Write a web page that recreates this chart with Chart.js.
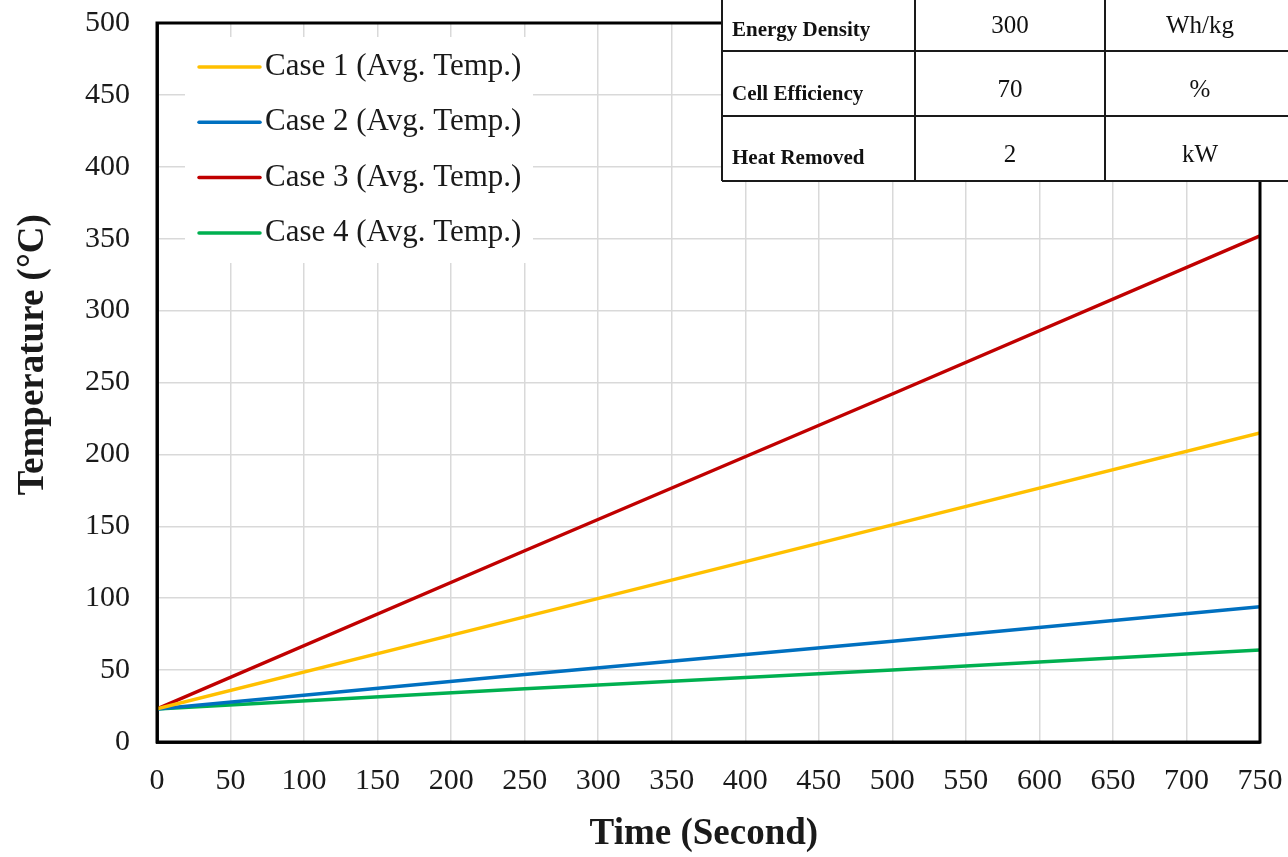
<!DOCTYPE html>
<html>
<head>
<meta charset="utf-8">
<script src="https://cdn.jsdelivr.net/npm/chart.js@4.4.1/dist/chart.umd.min.js"></script>
<style>
  html, body { margin: 0; padding: 0; background: #fff; }
  #wrap { width: 1288px; height: 857px; position: relative; }
</style>
</head>
<body>
<div id="wrap"><canvas id="chart"></canvas></div>
<script>
// time in seconds, avg. temperature in °C
const timeSec = [0, 250, 500, 750];
const case1 = [23, 87, 151, 215];
const case2 = [23, 47, 70, 94];
const case3 = [23, 133, 242, 352];
const case4 = [23, 37, 50, 64];

const seriesLabels = ['Case 1 (Avg. Temp.)', 'Case 2 (Avg. Temp.)', 'Case 3 (Avg. Temp.)', 'Case 4 (Avg. Temp.)'];
const seriesColors = ['#FFC000', '#0070C0', '#C00000', '#00B050'];

// parameter table in the top right corner
const paramNames = ['Energy Density', 'Cell Efficiency', 'Heat Removed'];
const paramValues = ['300', '70', '2'];
const paramUnits = ['Wh/kg', '%', 'kW'];

const SERIF = '"Liberation Serif", "Times New Roman", serif';
const NBSP = '\u00a0';

const toPoints = (ys) => ys.map((y, i) => ({ x: timeSec[i], y: y }));

const framePlugin = {
    id: 'frame',
    afterDatasetsDraw(chart) {
        const { ctx, chartArea: a } = chart;
        ctx.save();
        ctx.strokeStyle = '#000';
        ctx.lineWidth = 3;
        ctx.strokeRect(a.left, a.top, a.right - a.left, a.bottom - a.top);
        ctx.restore();
    },
};

const legendBoxPlugin = {
    id: 'legendBox',
    afterDraw(chart) {
        const { ctx } = chart;
        ctx.save();
        ctx.fillStyle = '#fff';
        ctx.fillRect(185, 37, 348, 226);
        ctx.font = '31px ' + SERIF;
        ctx.textBaseline = 'middle';
        ctx.textAlign = 'left';
        chart.data.datasets.forEach((ds, i) => {
            const y = 67 + i * 55.3;
            ctx.strokeStyle = ds.borderColor;
            ctx.lineWidth = 3.5;
            ctx.lineCap = 'round';
            ctx.beginPath();
            ctx.moveTo(199, y);
            ctx.lineTo(260, y);
            ctx.stroke();
            ctx.fillStyle = '#1a1a1a';
            ctx.fillText(ds.label, 265, y);
        });
        ctx.restore();
    },
};

const tablePlugin = {
    id: 'paramTable',
    afterDraw(chart) {
        const { ctx } = chart;
        const cols = [722, 915, 1105, 1292];
        const rows = [-5, 51, 116, 181];
        ctx.save();
        ctx.fillStyle = '#fff';
        ctx.fillRect(cols[0], 0, cols[3] - cols[0], rows[3]);
        ctx.strokeStyle = '#1a1a1a';
        ctx.lineWidth = 2;
        ctx.beginPath();
        cols.forEach((x) => { ctx.moveTo(x, rows[0]); ctx.lineTo(x, rows[3]); });
        rows.forEach((y) => { ctx.moveTo(cols[0], y); ctx.lineTo(cols[3], y); });
        ctx.stroke();
        ctx.fillStyle = '#111';
        paramNames.forEach((name, i) => {
            ctx.font = 'bold 21px ' + SERIF;
            ctx.textAlign = 'left';
            ctx.textBaseline = 'alphabetic';
            ctx.fillText(name, 732, 36 + i * 64);
            ctx.font = '25px ' + SERIF;
            ctx.textAlign = 'center';
            ctx.textBaseline = 'middle';
            ctx.fillText(paramValues[i], 1010, 26 + i * 64.5);
            ctx.fillText(paramUnits[i], 1200, 26 + i * 64.5);
        });
        ctx.restore();
    },
};

new Chart(document.getElementById('chart'), {
    type: 'line',
    data: {
        datasets: [case1, case2, case3, case4].map((ys, i) => ({
            label: seriesLabels[i],
            data: toPoints(ys),
            borderColor: seriesColors[i],
            backgroundColor: seriesColors[i],
            borderWidth: 3.5,
            pointRadius: 0,
            tension: 0,
            fill: false,
        })),
    },
    options: {
        responsive: true,
        maintainAspectRatio: false,
        animation: false,
        devicePixelRatio: 1,
        layout: { padding: { left: 0, top: 23, right: 28, bottom: 0 } },
        plugins: {
            legend: { display: false },
            tooltip: { enabled: false },
        },
        scales: {
            x: {
                type: 'linear',
                min: 0,
                max: 750,
                ticks: {
                    stepSize: 50,
                    padding: 21,
                    color: '#1a1a1a',
                    font: { family: SERIF, size: 30 },
                    maxRotation: 0,
                },
                grid: { color: '#d9d9d9', lineWidth: 1.5, drawTicks: false },
                border: { color: '#1a1a1a', width: 3 },
                title: {
                    display: true,
                    // trailing space nudges the centred title a little left
                    text: 'Time (Second)' + NBSP,
                    color: '#1a1a1a',
                    font: { family: SERIF, size: 37, weight: 'bold' },
                    padding: { top: 0, bottom: 0 },
                },
                afterFit: (scale) => {
                    scale.height = 115;
                    scale.paddingLeft = 0;
                    scale.paddingRight = 0;
                },
            },
            y: {
                min: 0,
                max: 500,
                ticks: {
                    stepSize: 50,
                    padding: 27,
                    color: '#1a1a1a',
                    font: { family: SERIF, size: 30 },
                },
                grid: { color: '#d9d9d9', lineWidth: 1.5, drawTicks: false },
                border: { color: '#1a1a1a', width: 3 },
                title: {
                    display: true,
                    // leading spaces lift the title, it sits above centre in the original
                    text: NBSP.repeat(6) + 'Temperature (°C)',
                    color: '#1a1a1a',
                    font: { family: SERIF, size: 37, weight: 'bold' },
                    padding: { top: 11, bottom: 0 },
                },
                afterFit: (scale) => {
                    scale.width = 157;
                    scale.paddingTop = 0;
                    scale.paddingBottom = 0;
                },
            },
        },
    },
    plugins: [framePlugin, legendBoxPlugin, tablePlugin],
});
</script>
</body>
</html>
